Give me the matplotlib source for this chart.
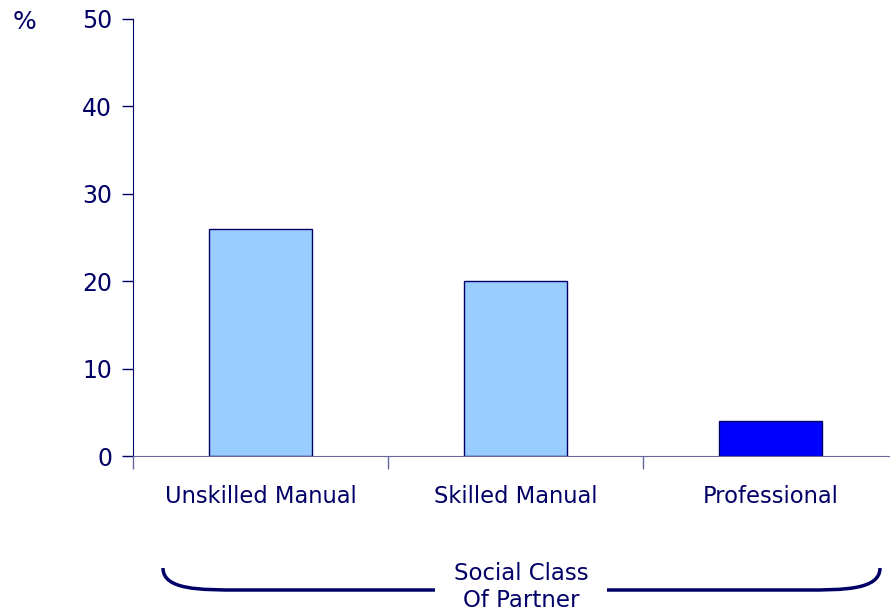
import matplotlib
matplotlib.use("Agg")
import matplotlib.pyplot as plt
from matplotlib.path import Path
from matplotlib.patches import PathPatch

categories = ["Unskilled Manual", "Skilled Manual", "Professional"]
values = [26, 20, 4]
colors = ["#99ccff", "#99ccff", "#0000ff"]

navy = "#000066"
plt.rcParams["font.family"] = ["DejaVu Sans"]

fig = plt.figure(figsize=(8.9, 6.15), dpi=100)
ax = fig.add_axes([133 / 890, 1 - 456 / 615, 765 / 890, 437 / 615])

x = range(len(categories))
ax.bar(x, values, width=0.404, color=colors, edgecolor=navy, linewidth=1)

ax.set_xlim(-0.5, 2.5)
ax.set_ylim(0, 50)
ax.set_yticks(range(0, 51, 10))
ax.set_xticks([-0.5, 0.5, 1.5, 2.5])
ax.set_xticklabels([])
ax.set_xticks(list(x), minor=True)
ax.set_xticklabels(categories, minor=True)

ax.tick_params(axis="y", direction="out", length=8, width=1, color=navy,
               labelcolor=navy, labelsize=17, pad=7)
ax.tick_params(axis="x", which="major", direction="out", length=9, width=1,
               color="#666699")
ax.tick_params(axis="x", which="minor", length=0, labelcolor=navy,
               labelsize=16.3, pad=21)

for s in ["top", "right"]:
    ax.spines[s].set_visible(False)
ax.spines["left"].set_color(navy)
ax.spines["bottom"].set_color("#666699")

fig.text(13 / 890, 1 - 22 / 615, "%", color=navy, fontsize=18, va="center")

# bracket under the categories
H = 615
codes = [Path.MOVETO, Path.CURVE4, Path.CURVE4, Path.CURVE4, Path.LINETO]
verts = [(163, H - 568), (163, H - 590), (200, H - 590), (240, H - 590),
         (435, H - 590)]
fig.patches.append(PathPatch(Path(verts, codes), transform=None, fill=False,
                             edgecolor=navy, linewidth=2.5))
codes = [Path.MOVETO, Path.LINETO, Path.CURVE4, Path.CURVE4, Path.CURVE4]
verts = [(607, H - 590), (805, H - 590), (843, H - 590), (880, H - 590),
         (880, H - 568)]
fig.patches.append(PathPatch(Path(verts, codes), transform=None, fill=False,
                             edgecolor=navy, linewidth=2.5))

fig.text(521 / 890, 1 - 587 / 615, "Social Class\nOf Partner", color=navy,
         fontsize=16.5, ha="center", va="center", linespacing=1.2)

fig.savefig("out.png", dpi=100)
